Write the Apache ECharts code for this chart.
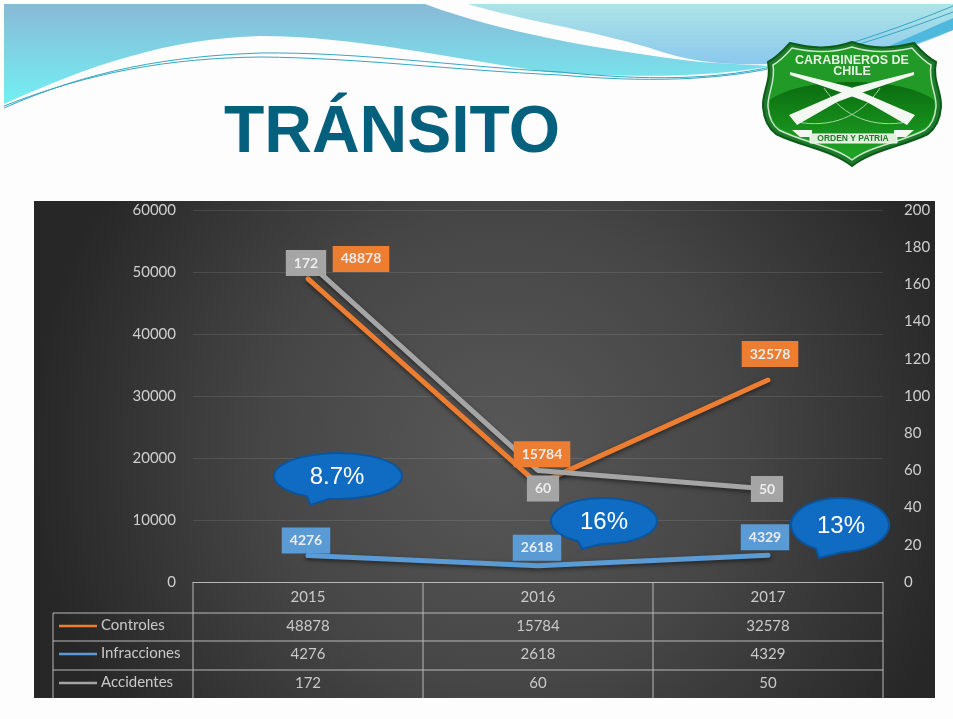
<!DOCTYPE html>
<html>
<head>
<meta charset="utf-8">
<style>html,body{margin:0;padding:0;background:#fdfdfd}#c{width:953px;height:719px}</style>
<script src="https://cdn.jsdelivr.net/npm/echarts@6/dist/echarts.min.js"></script>
</head>
<body>
<div id="c"></div>
<script>
const categories = ['2015', '2016', '2017'];
const seriesNames = ['Controles', 'Infracciones', 'Accidentes'];
const controles = [48878, 15784, 32578];
const infracciones = [4276, 2618, 4329];
const accidentes = [172, 60, 50];
const leftTicksMax = 60000, leftInterval = 10000;
const rightTicksMax = 200, rightInterval = 20;
const callouts = ['8.7%', '16%', '13%'];

const colors = ['#ed7d31', '#5b9bd5', '#a5a5a5'];
const G = {l: 193, r: 883, t: 210, b: 582};
const colW = (G.r - G.l) / categories.length;
const rowY = [613, 641, 670, 698];
const rowText = [626, 654, 683];
const labelOffsets = [
  [[53, -20], [4, -30], [2, -26]],
  [[-2, -15], [-1, -18], [-3, -18]],
  [[-2, 1], [5, 18], [-1, 0]]
];
const allValues = [controles, infracciones, accidentes];
const font = 'Lato';

let pathCount = 0;
function pathEl(d, z, style) {
  const name = 'deco' + (pathCount++);
  echarts.graphic.registerShape(name, echarts.graphic.extendPath(d, {}));
  return {type: name, z, silent: true, style};
}
function line(x1, y1, x2, y2, color, w, z) {
  return {type: 'line', z: z || 1, silent: true, shape: {x1, y1, x2, y2},
    style: {stroke: color || '#b9b9b9', lineWidth: w || 1}};
}
function text(x, y, t, o) {
  return {type: 'text', z: (o && o.z) || 5, silent: true, x, y,
    style: Object.assign({text: t, align: 'center', verticalAlign: 'middle',
      fill: '#c9c9c9', font: '15px ' + font}, o && o.style)};
}
function mirrorPts(pts, cx) { return pts.map(p => [2 * cx - p[0], p[1]]); }

const g = [];
// --- decorative header waves
g.push(pathEl('M4 4 L425 4 C500 32 600 50 700 62 L770 66 C720 76 640 79 547 72 C450 58 350 36 261 36 C170 38 90 65 4 104 Z', -20,
  {fill: {type: 'linear', x: 0, y: 0, x2: 0, y2: 1, colorStops: [{offset: 0, color: '#89b9d6'}, {offset: 1, color: '#72f0f4'}], global: false}}));
g.push(pathEl('M468 4 L953 4 L953 30 C900 55 840 66 770 64 C720 65 690 62 650 48 C590 30 520 20 468 4 Z', -20,
  {fill: {type: 'linear', x: 0, y: 0, x2: 0, y2: 1, colorStops: [{offset: 0, color: '#aee4e6'}, {offset: 1, color: '#8ac8ee'}], global: false}}));
g.push(pathEl('M880 50 L953 18 L953 30 L895 52 Z', -19, {fill: '#4fb9dd'}));
['M4 108 C90 70 170 56 261 53 C360 52 450 66 560 72 C640 80 720 82 790 62 C850 44 900 28 953 6',
 'M4 106 C90 72 170 58 261 57 C360 58 450 70 560 75 C640 82 720 82 790 64 C850 48 900 32 953 12'].forEach(d => {
  g.push(pathEl(d, -18, {fill: 'none', stroke: '#35a7c4', lineWidth: 1}));
});
// --- title
g.push({type: 'text', z: 3, silent: true, x: 392, y: 134,
  style: {text: 'TRÁNSITO', align: 'center', verticalAlign: 'middle',
    fill: '#04607c', font: 'bold 66px "Liberation Sans"'}});
// --- badge
g.push(pathEl('M852 42 C830 50 810 48 790 43 C782 52 776 58 768 62 C772 80 762 92 763 107 C764 120 768 128 776 134 C800 146 832 150 852 166 C872 150 904 146 928 134 C936 128 940 120 941 107 C942 92 932 80 936 62 C928 58 922 52 914 43 C894 48 874 50 852 42 Z', -5,
  {fill: '#1d7a2a', stroke: '#0d5a1a', lineWidth: 2}));
g.push(pathEl('M852 47 C830 54 810 52 792 48 C785 56 780 61 773 65 C776 82 767 94 768 107 C769 118 772 125 779 130 C802 142 834 146 852 160 C870 146 902 142 925 130 C932 125 935 118 936 107 C937 94 928 82 931 65 C924 61 919 56 912 48 C894 52 874 54 852 47 Z', -4,
  {fill: '#229a27', stroke: '#c8e8c8', lineWidth: 1.5}));
g.push(pathEl('M770 100 C800 76 904 76 934 100 C936 112 932 122 924 128 C902 140 870 144 852 157 C834 144 802 140 780 128 C772 122 768 112 770 100 Z', -3,
  {fill: {type: 'linear', x: 0, y: 0, x2: 0, y2: 1, colorStops: [{offset: 0, color: '#0b6c10'}, {offset: 1, color: '#1ea524'}], global: false}}));
g.push(pathEl('M797 122 C830 128 860 118 880 88', -2, {fill: 'none', stroke: '#9fd89f', lineWidth: 1}));
g.push(pathEl('M907 122 C874 128 844 118 824 88', -2, {fill: 'none', stroke: '#9fd89f', lineWidth: 1}));
const rifle = [[790, 72], [850, 87], [915, 115], [907, 125], [867, 102], [840, 92], [790, 75]];
[rifle, mirrorPts(rifle, 852)].forEach(p => g.push({type: 'polygon', z: -1, silent: true, shape: {points: p}, style: {fill: '#f4f8f2'}}));
const wing = [[792, 130], [812, 130], [812, 137], [800, 137]];
[wing, mirrorPts(wing, 853)].forEach(p => g.push({type: 'polygon', z: -1, silent: true, shape: {points: p}, style: {fill: '#f4f8f2'}}));
g.push({type: 'rect', z: -1, silent: true, shape: {x: 810, y: 134, width: 87, height: 9},
  style: {fill: '#dff0da', stroke: '#f4f8f2', lineWidth: 1}});
g.push({type: 'text', z: 0, silent: true, x: 853, y: 139,
  style: {text: 'ORDEN Y PATRIA', align: 'center', verticalAlign: 'middle', fill: '#1f7a25', font: 'bold 8.5px "Liberation Sans"'}});
g.push({type: 'text', z: 0, silent: true, x: 852, y: 61,
  style: {text: 'CARABINEROS DE', align: 'center', verticalAlign: 'middle', fill: '#e6f2e2', font: 'bold 12.5px "Liberation Sans"'}});
g.push({type: 'text', z: 0, silent: true, x: 852, y: 72,
  style: {text: 'CHILE', align: 'center', verticalAlign: 'middle', fill: '#e6f2e2', font: 'bold 12.5px "Liberation Sans"'}});
// --- dark chart panel
g.push({type: 'rect', z: -10, silent: true, shape: {x: 34, y: 201, width: 901, height: 497},
  style: {fill: {type: 'radial', x: 0.52, y: 0.5, r: 0.95, colorStops: [{offset: 0, color: '#585858'}, {offset: 0.5, color: '#464646'}, {offset: 1, color: '#272727'}], global: false}}});
// --- data table
for (let i = 0; i <= categories.length; i++) {
  g.push(line(G.l + i * colW, G.b, G.l + i * colW, rowY[3]));
}
g.push(line(53, rowY[0], 53, rowY[3]));
rowY.slice(0, 3).forEach(y => g.push(line(53, y, G.r, y)));
seriesNames.forEach((n, r) => {
  g.push(line(59, rowText[r], 97, rowText[r], colors[r], 2.5, 2));
  g.push(text(101, rowText[r] - 1, n, {style: {align: 'left'}}));
  allValues[r].forEach((v, c) => g.push(text(G.l + colW * (c + 0.5), rowText[r], String(v))));
});
// --- callouts: ellipse [cx, cy, rx, ry], tail base x1, x2, tip
const bubbles = [
  {e: [338, 476, 64, 23], b: [307, 329], t: [310.5, 505], txt: [337, 477]},
  {e: [604, 521, 53, 23], b: [578, 601], t: [582, 549], txt: [604, 522]},
  {e: [840, 525, 49, 27], b: [816, 843], t: [819, 558], txt: [841, 526]}
];
bubbles.forEach((o, i) => {
  const [cx, cy, rx, ry] = o.e;
  const yAt = x => cy + ry * Math.sqrt(1 - Math.pow((x - cx) / rx, 2));
  const d = `M${o.b[0]} ${yAt(o.b[0])} A${rx} ${ry} 0 1 1 ${o.b[1]} ${yAt(o.b[1])} L${o.t[0]} ${o.t[1]} Z`;
  g.push(pathEl(d, 50, {fill: '#0f6cc2', stroke: '#0b559e', lineWidth: 2}));
  g.push({type: 'text', z: 51, silent: true, x: o.txt[0], y: o.txt[1],
    style: {text: callouts[i], align: 'center', verticalAlign: 'middle', fill: '#ffffff', font: '24px "Liberation Sans"'}});
});

const axisLabel = {color: '#cfcfcf', fontFamily: font, fontSize: 15, formatter: v => String(v)};
const option = {
  animation: false,
  backgroundColor: '#fdfdfd',
  grid: {left: G.l, right: 953 - G.r, top: G.t, bottom: 719 - G.b},
  xAxis: {
    type: 'category', data: categories,
    axisLine: {lineStyle: {color: '#b9b9b9', width: 1}},
    axisTick: {show: false},
    axisLabel: {color: '#c9c9c9', fontFamily: font, fontSize: 15, margin: 8}
  },
  yAxis: [
    {type: 'value', min: 0, max: leftTicksMax, interval: leftInterval,
      axisLine: {show: false}, axisTick: {show: false},
      axisLabel: Object.assign({}, axisLabel, {margin: 17}),
      splitLine: {lineStyle: {color: 'rgba(255,255,255,0.1)', width: 1}}},
    {type: 'value', min: 0, max: rightTicksMax, interval: rightInterval, position: 'right',
      axisLine: {show: false}, axisTick: {show: false},
      axisLabel: Object.assign({}, axisLabel, {margin: 21}),
      splitLine: {show: false}}
  ],
  series: allValues.map((vals, s) => ({
    name: seriesNames[s], type: 'line', yAxisIndex: s === 2 ? 1 : 0,
    symbol: 'circle', symbolSize: 1, silent: true,
    lineStyle: {color: colors[s], width: 5, cap: 'round', shadowColor: 'rgba(0,0,0,0.5)', shadowBlur: 4, shadowOffsetY: 2},
    itemStyle: {color: colors[s]},
    label: {show: true, position: 'inside', color: '#ececec', fontFamily: font, fontSize: 14, fontWeight: 'bold',
      backgroundColor: colors[s], padding: [6, 8]},
    data: vals.map((v, i) => ({value: v, label: {offset: labelOffsets[s][i]}}))
  })),
  graphic: {elements: g}
};
const chart = echarts.init(document.getElementById('c'), null, {renderer: 'canvas'});
chart.setOption(option);
</script>
</body>
</html>
